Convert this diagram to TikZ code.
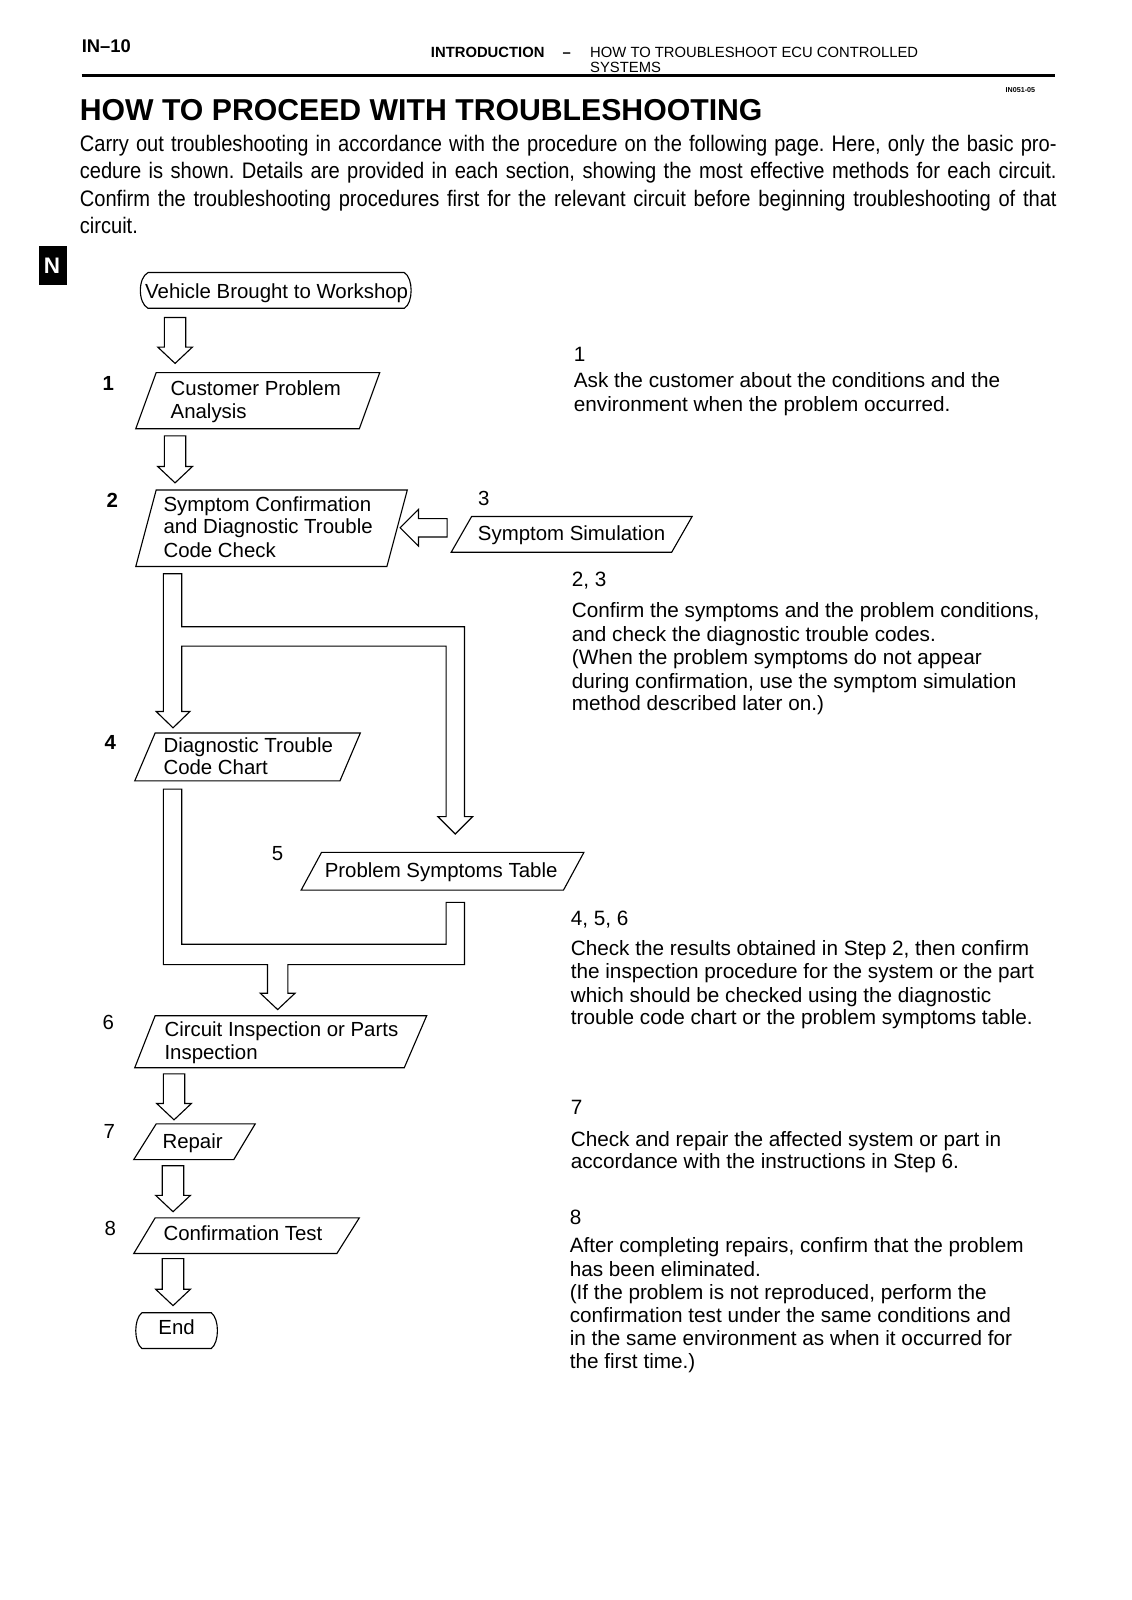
\documentclass[tikz,border=0pt]{standalone}
\usepackage{fontspec}
\setmainfont{Liberation Sans}
\newfontfamily\narrowfont[FakeStretch=0.895]{Liberation Sans}
\usetikzlibrary{calc}
\newcommand\hdarrow[2]{%
  \draw[harrow] ($(#1)+(-10.5,0)$) -- ($(#2)+(-10.5,-16)$) -- ($(#2)+(-17,-16)$) -- (#2)
    -- ($(#2)+(17,-16)$) -- ($(#2)+(10.5,-16)$) -- ($(#1)+(10.5,0)$) -- cycle;}
\begin{document}
\begin{tikzpicture}[x=1pt,y=-1pt,
  box/.style={draw,line width=1.1pt,line join=miter},
  harrow/.style={draw,line width=1.1pt,fill=white,line join=miter},
  txt/.style={anchor=base west,inner sep=0pt,font=\fontsize{20}{22}\selectfont},
  rtxt/.style={anchor=base west,inner sep=0pt,font=\fontsize{20.3}{22}\selectfont},
  ctxt/.style={anchor=base,inner sep=0pt,font=\fontsize{20}{22}\selectfont},
  num/.style={anchor=center,inner sep=0pt,font=\fontsize{20}{22}\selectfont},
  bnum/.style={anchor=center,inner sep=0pt,font=\fontsize{20}{22}\selectfont\bfseries},
  intro/.style={anchor=base west,inner sep=0pt,font=\fontsize{22}{25}\narrowfont\frenchspacing},
  hdr/.style={anchor=base west,inner sep=0pt,font=\fontsize{14.5}{16}\selectfont}]
\fill[white] (0,0) rectangle (1108,1567.4);
\useasboundingbox (0,0) rectangle (1108,1567.4);

% ---------- header ----------
\node[anchor=base west,inner sep=0pt,font=\fontsize{18}{20}\selectfont\bfseries] (pg) at (80,51) {IN--10};
\node[hdr,font=\fontsize{14.5}{16}\selectfont\bfseries] (h1) at (422,56) {INTRODUCTION};
\node[hdr,font=\fontsize{14.5}{16}\selectfont\bfseries] (h2) at (551,56) {--};
\node[hdr] (h3) at (578,56) {HOW TO TROUBLESHOOT ECU CONTROLLED};
\node[hdr] (h4) at (578,71) {SYSTEMS};
\draw[line width=2.5pt] (80,74) -- (1033,74);
\node[anchor=base west,inner sep=0pt,font=\fontsize{7}{8}\selectfont\bfseries] (code) at (985,91) {IN051-05};
\node[anchor=base west,inner sep=0pt,font=\fontsize{29.6}{32}\selectfont\bfseries] (title) at (78,118) {HOW TO PROCEED WITH TROUBLESHOOTING};
\node[intro] (i1) at (78,148) {\makebox[957pt][s]{Carry out troubleshooting in accordance with the procedure on the following page. Here, only the basic pro-}};
\node[intro] (i2) at (78,175) {\makebox[957pt][s]{cedure is shown. Details are provided in each section, showing the most effective methods for each circuit.}};
\node[intro] (i3) at (78,202) {\makebox[957pt][s]{Confirm the troubleshooting procedures first for the relevant circuit before beginning troubleshooting of that}};
\node[intro] (i4) at (78,229) {circuit.};

% tab
\fill (38,241) rectangle (66,279);
\node[anchor=center,inner sep=0pt,text=white,font=\fontsize{22}{24}\selectfont\bfseries] (tab) at (51,260) {N};

% ---------- flowchart boxes ----------
\draw[box] (145,267) -- (396,267) .. controls (405,272) and (405,297) .. (396,302)
  -- (145,302) .. controls (135,297) and (135,272) .. (145,267);
\node[ctxt] (veh) at (271,292) {Vehicle Brought to Workshop};

\draw[box] (153,365) -- (372,365) -- (352,420) -- (133,420) -- cycle;
\node[txt] (c1) at (167,387) {Customer Problem};
\node[txt] (c2) at (167,410) {Analysis};

\draw[box] (153,480) -- (399,480) -- (379,555) -- (133,555) -- cycle;
\node[txt] (s1) at (160,501) {Symptom Confirmation};
\node[txt] (s2) at (160,523) {and Diagnostic Trouble};
\node[txt] (s3) at (160,546) {Code Check};

\draw[box] (462,506) -- (678,506) -- (658,541) -- (442,541) -- cycle;
\node[txt] (sim) at (468,529) {Symptom Simulation};

\draw[box] (152,718) -- (353,718) -- (333,765) -- (132,765) -- cycle;
\node[txt] (d1) at (160,737) {Diagnostic Trouble};
\node[txt] (d2) at (160,759) {Code Chart};

\draw[box] (315,835) -- (572,835) -- (552,872) -- (295,872) -- cycle;
\node[txt] (pst) at (318,860) {Problem Symptoms Table};

\draw[box] (152,995) -- (418,995) -- (396,1046) -- (132,1046) -- cycle;
\node[txt] (ci1) at (161,1015) {Circuit Inspection or Parts};
\node[txt] (ci2) at (161,1038) {Inspection};

\draw[box] (153,1101) -- (250,1101) -- (229,1136) -- (131,1136) -- cycle;
\node[txt] (rep) at (159,1125) {Repair};

\draw[box] (152,1193) -- (352,1193) -- (330,1228) -- (131,1228) -- cycle;
\node[txt] (ct) at (160,1215) {Confirmation Test};

\draw[box] (139,1286) -- (207,1286) .. controls (215,1292) and (215,1315) .. (207,1321)
  -- (139,1321) .. controls (131,1315) and (131,1292) .. (139,1286);
\node[ctxt] (end) at (173,1307) {End};

% step numbers
\node[bnum] (n1) at (106,376) {1};
\node[bnum] (n2) at (110,490) {2};
\node[num] (n3) at (474,488) {3};
\node[bnum] (n4) at (108,727) {4};
\node[num] (n5) at (272,836) {5};
\node[num] (n6) at (106,1002) {6};
\node[num] (n7) at (107,1108) {7};
\node[num] (n8) at (108,1203) {8};

% ---------- hollow arrows ----------
\coordinate (a1t) at (171.5,311); \coordinate (a1h) at (171.5,356);
\coordinate (a2t) at (171.5,427); \coordinate (a2h) at (171.5,473);
\coordinate (a3t) at (170.5,1052); \coordinate (a3h) at (170.5,1097);
\coordinate (a4t) at (169.5,1142); \coordinate (a4h) at (169.5,1187);
\coordinate (a5t) at (169.5,1233); \coordinate (a5h) at (169.5,1279);
\hdarrow{a1t}{a1h}
\hdarrow{a2t}{a2h}
\hdarrow{a3t}{a3h}
\hdarrow{a4t}{a4h}
\hdarrow{a5t}{a5h}

% left arrow from Symptom Simulation
\draw[harrow] (438,508) -- (410,508) -- (410,499) -- (392,517) -- (410,535) -- (410,526) -- (438,526) -- cycle;

% split arrow
\draw[harrow] (160,562) -- (178,562) -- (178,614) -- (455,614) -- (455,800) -- (463,800) -- (446,817)
  -- (429,800) -- (437,800) -- (437,633) -- (178,633) -- (178,697) -- (186,697) -- (169.5,713)
  -- (153,697) -- (160,697) -- cycle;

% merge arrow
\draw[harrow] (160,773) -- (178,773) -- (178,925) -- (437,925) -- (437,884) -- (455,884) -- (455,945)
  -- (282,945) -- (282,973) -- (289,973) -- (272,989) -- (255,973) -- (262,973) -- (262,945)
  -- (160,945) -- cycle;

% ---------- right column ----------
\node[rtxt] (r1n) at (562,354) {1};
\node[rtxt] (r1a) at (562,380) {Ask the customer about the conditions and the};
\node[rtxt] (r1b) at (562,403) {environment when the problem occurred.};

\node[rtxt] (r2n) at (560,575) {2, 3};
\node[rtxt] (r2a) at (560,605) {Confirm the symptoms and the problem conditions,};
\node[rtxt] (r2b) at (560,628) {and check the diagnostic trouble codes.};
\node[rtxt] (r2c) at (560,651) {(When the problem symptoms do not appear};
\node[rtxt] (r2d) at (560,674) {during confirmation, use the symptom simulation};
\node[rtxt] (r2e) at (560,696) {method described later on.)};

\node[rtxt] (r4n) at (559,907) {4, 5, 6};
\node[rtxt] (r4a) at (559,936) {Check the results obtained in Step 2, then confirm};
\node[rtxt] (r4b) at (559,959) {the inspection procedure for the system or the part};
\node[rtxt] (r4c) at (559,982) {which should be checked using the diagnostic};
\node[rtxt] (r4d) at (559,1004) {trouble code chart or the problem symptoms table.};

\node[rtxt] (r7n) at (559,1092) {7};
\node[rtxt] (r7a) at (559,1123) {Check and repair the affected system or part in};
\node[rtxt] (r7b) at (559,1145) {accordance with the instructions in Step 6.};

\node[rtxt] (r8n) at (558,1200) {8};
\node[rtxt] (r8a) at (558,1227) {After completing repairs, confirm that the problem};
\node[rtxt] (r8b) at (558,1250) {has been eliminated.};
\node[rtxt] (r8c) at (558,1273) {(If the problem is not reproduced, perform the};
\node[rtxt] (r8d) at (558,1296) {confirmation test under the same conditions and};
\node[rtxt] (r8e) at (558,1318) {in the same environment as when it occurred for};
\node[rtxt] (r8f) at (558,1341) {the first time.)};
\end{tikzpicture}
\end{document}
